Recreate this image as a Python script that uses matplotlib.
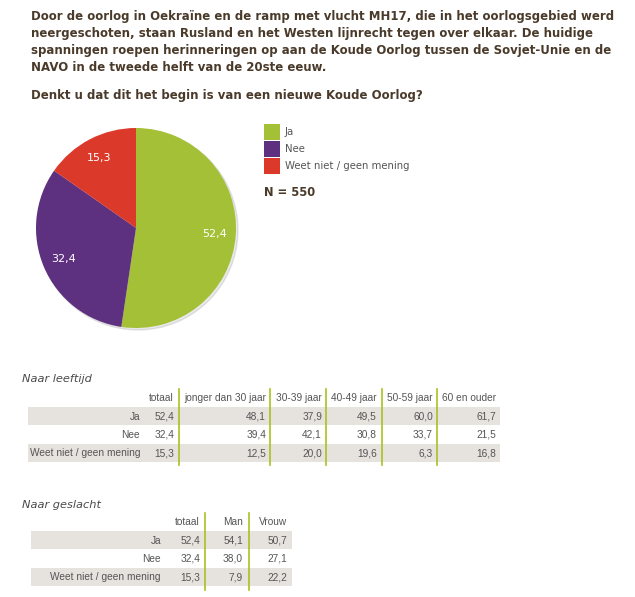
import numpy as np
import matplotlib.pyplot as plt
from matplotlib.patches import Rectangle, Circle

# data
answers = ['Ja', 'Nee', 'Weet niet / geen mening']
totaal = [52.4, 32.4, 15.3]
n_total = 550

age_groups = ['jonger dan 30 jaar', '30-39 jaar', '40-49 jaar', '50-59 jaar', '60 en ouder']
age_ja = [48.1, 37.9, 49.5, 60.0, 61.7]
age_nee = [39.4, 42.1, 30.8, 33.7, 21.5]
age_weet = [12.5, 20.0, 19.6, 6.3, 16.8]

gender_groups = ['Man', 'Vrouw']
gender_ja = [54.1, 50.7]
gender_nee = [38.0, 27.1]
gender_weet = [7.9, 22.2]

intro = ("Door de oorlog in Oekraïne en de ramp met vlucht MH17, die in het oorlogsgebied werd\n"
         "neergeschoten, staan Rusland en het Westen lijnrecht tegen over elkaar. De huidige\n"
         "spanningen roepen herinneringen op aan de Koude Oorlog tussen de Sovjet-Unie en de\n"
         "NAVO in de tweede helft van de 20ste eeuw.")
question = "Denkt u dat dit het begin is van een nieuwe Koude Oorlog?"

colors = ['#a3c036', '#5e3080', '#db3a2b']
title_col = '#4a3a2a'
text_col = '#555555'
row_bg = '#e6e2de'
line_col = '#a9c21f'
table_font = 'Liberation Sans'

W, H = 635, 597
fig = plt.figure(figsize=(W / 100, H / 100), dpi=100)
ax = fig.add_axes([0, 0, 1, 1])
ax.set_xlim(0, W)
ax.set_ylim(H, 0)
ax.axis('off')


def fmt(v):
    return f"{v:.1f}".replace('.', ',')


# header text
ax.text(31, 10, intro, fontsize=8.47, fontweight='bold', color=title_col,
        va='top', ha='left', linespacing=1.41)
ax.text(31, 89, question, fontsize=8.47, fontweight='bold', color=title_col,
        va='top', ha='left')

# pie chart
cx, cy, r = 136, 228, 100
pax = fig.add_axes([(cx - r) / W, 1 - (cy + r) / H, 2 * r / W, 2 * r / H])
shadow = Circle((0.02, -0.02), 1.0, color='#000000', alpha=0.09, zorder=0, clip_on=False)
pax.add_patch(shadow)
wedges, texts = pax.pie(totaal, colors=colors, startangle=90, counterclock=False,
                        labels=[fmt(v) for v in totaal], labeldistance=0.79,
                        textprops=dict(color='white', fontsize=8, ha='center', va='center'),
                        frame=True)
pax.set_xlim(-1, 1)
pax.set_ylim(-1, 1)
pax.set_aspect('auto')
pax.axis('off')

# legend
for i, (lab, c) in enumerate(zip(answers, colors)):
    y0 = 124 + i * 17
    ax.add_patch(Rectangle((264, y0), 16, 16, color=c, lw=0))
    ax.text(285, y0 + 8, lab, fontsize=7.3, color=text_col, va='center', ha='left')
ax.text(264, 192, f"N = {n_total}", fontsize=8.3, fontweight='bold', color=title_col,
        va='center', ha='left')


def draw_table(title, title_y, groups, rows, label_right, tot_right, col_rights,
               vlines, bg_x, header_y, row_top, line_top, line_bottom):
    ax.text(22, title_y, title, fontsize=8.2, style='italic', color='#4a4a4a',
            va='center', ha='left')
    kw = dict(fontsize=7.3, color=text_col, va='center', ha='right', family=table_font)
    ax.text(tot_right, header_y, 'totaal', **kw)
    for g, xr in zip(groups, col_rights):
        ax.text(xr, header_y, g, **kw)
    for i, (lab, tot, vals) in enumerate(rows):
        top = row_top + i * 18.3
        if i % 2 == 0:
            ax.add_patch(Rectangle((bg_x[0], top), bg_x[1] - bg_x[0], 18, color=row_bg, lw=0))
        yc = top + 9.5
        ax.text(label_right, yc, lab, **kw)
        ax.text(tot_right, yc, fmt(tot), **kw)
        for v, xr in zip(vals, col_rights):
            ax.text(xr, yc, fmt(v), **kw)
    for xv in vlines:
        ax.plot([xv, xv], [line_top, line_bottom], color=line_col, lw=1.2)


age_rows = list(zip(answers, totaal, [age_ja, age_nee, age_weet]))
draw_table('Naar leeftijd', 379, age_groups, age_rows, 140, 174,
           [266, 322, 377, 433, 496], [179, 270, 326, 382, 437],
           (28, 500), 398, 407, 389, 465)

gender_rows = list(zip(answers, totaal, [gender_ja, gender_nee, gender_weet]))
draw_table('Naar geslacht', 505, gender_groups, gender_rows, 161, 200,
           [243, 287], [205, 249], (31, 292), 522, 531, 513, 590)

fig.savefig('out.png', dpi=100)
